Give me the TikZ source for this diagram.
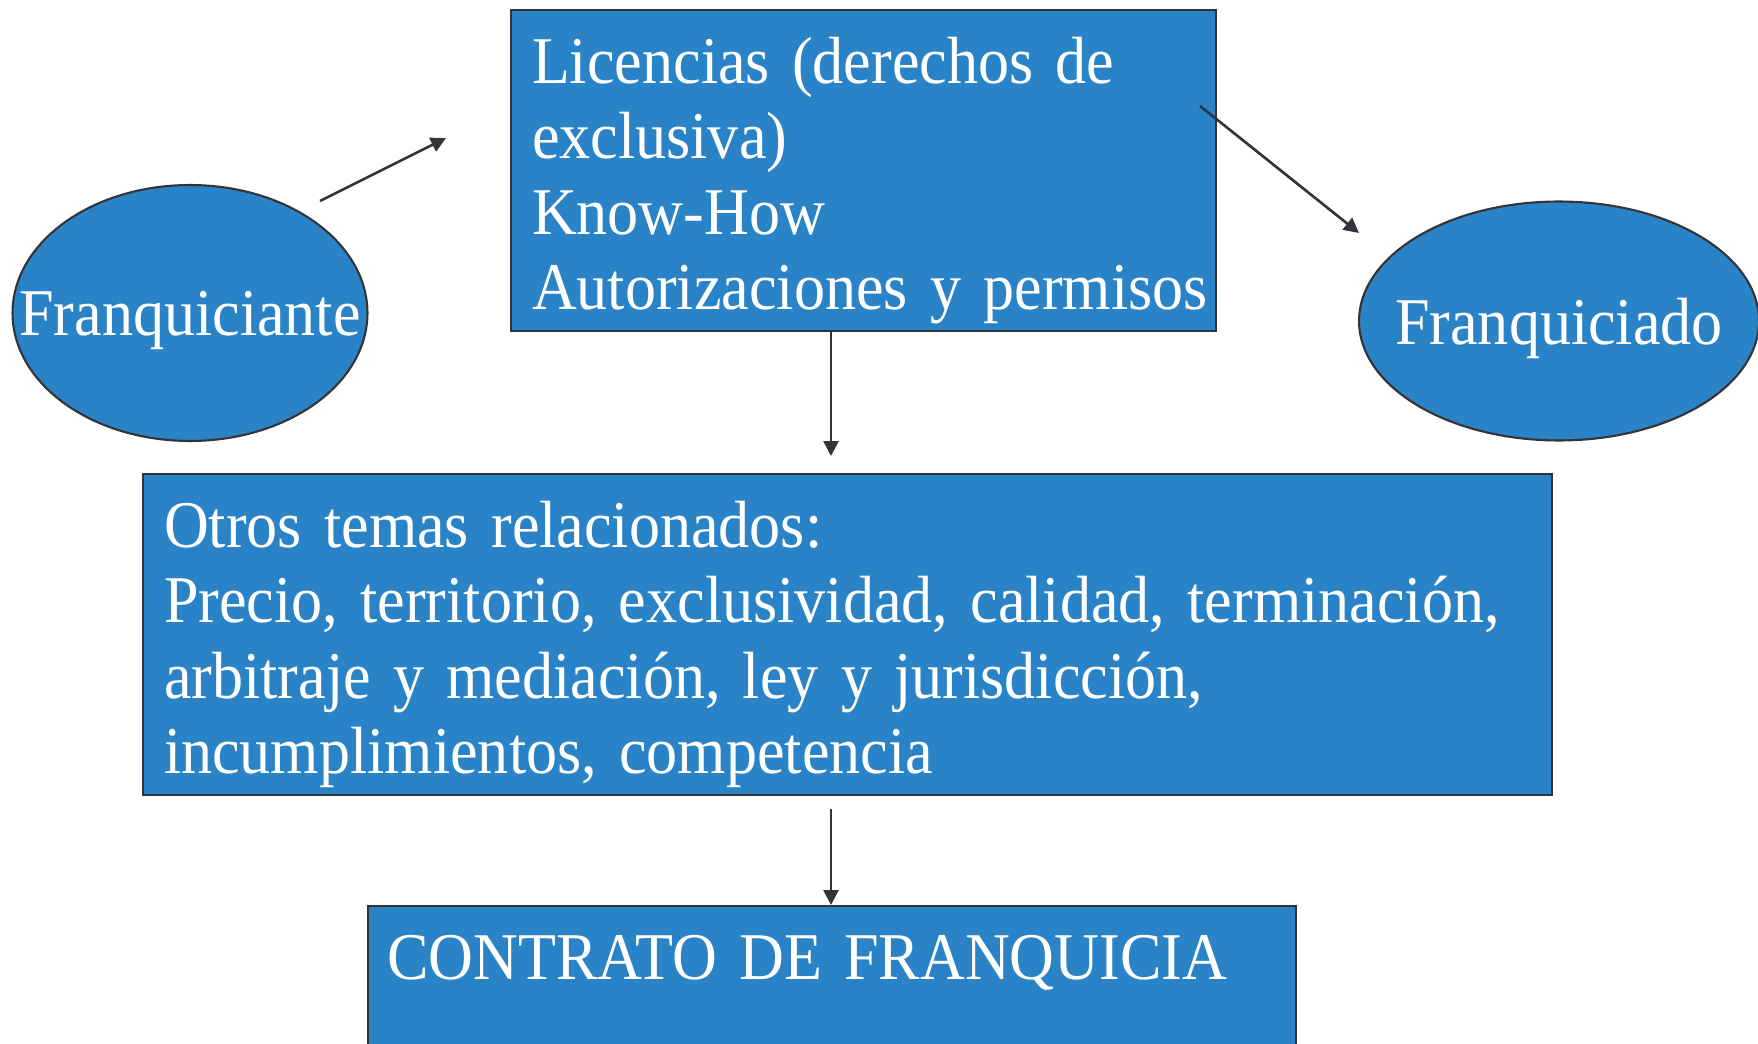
\documentclass[tikz,border=0pt]{standalone}
\usepackage{fontspec}
\setmainfont{Liberation Serif}[FakeStretch=0.93]
\usetikzlibrary{arrows.meta, shapes.geometric}
\definecolor{boxblue}{HTML}{2A83C6}
\definecolor{edgegray}{HTML}{333338}
\begin{document}
\begin{tikzpicture}[x=0.02cm,y=-0.02cm,>={Triangle[length=0.3cm,width=0.3cm]},
      every node/.style={font={\fontsize{38}{43}\selectfont\hyphenpenalty=10000\relax},text=white},
      boxnode/.style={draw=edgegray,line width=1.2pt,fill=boxblue,rectangle,anchor=north west,
        align=left,inner xsep=0.42cm,inner ysep=0pt,text height=1.46cm},
      party/.style={draw=edgegray,line width=1.2pt,fill=boxblue,ellipse,inner sep=0pt,text depth=0cm},
      link/.style={->,draw=edgegray,line width=1.5pt}]
      \useasboundingbox (0,0) rectangle (1758,1044);
      \node[party, minimum width=7.1cm, minimum height=5.12cm, text height=0.92cm] (fte) at (190,313) {\makebox[0pt]{Franquiciante}};
      \node[party, minimum width=8cm, minimum height=4.78cm, text height=0.96cm] (fdo) at (1559,321) {\makebox[0pt]{Franquiciado}};
      \node[boxnode, text width=13.26cm, text depth=4.96cm] (lic) at (510,9)
        {Licencias (derechos de\\exclusiva)\\Know-How\\\makebox[13.26cm][l]{Autorizaciones y permisos}};
      \node[boxnode, text width=27.34cm, text depth=4.96cm] (otros) at (142,473)
        {Otros temas relacionados:\\Precio, territorio, exclusividad, calidad, terminación,\\arbitraje y mediación, ley y jurisdicción,\\incumplimientos, competencia};
      \node[boxnode, text width=17.8cm, inner xsep=0.38cm, text depth=3cm] (contrato) at (367,905)
        {CONTRATO DE FRANQUICIA};
      \coordinate (a_0) at (320,201);
      \coordinate (a_1) at (446,138);
      \coordinate (b_0) at (1200,106);
      \coordinate (b_1) at (1359,233);
      \coordinate (c_1) at (831,456);
      \coordinate (d_0) at (831,809);
      \draw[link] (a_0) -- (a_1);
      \draw[link] (b_0) -- (b_1);
      \draw[link] (lic.south -| c_1) -- (c_1);
      \draw[link] (d_0) -- (d_0 |- contrato.north);
    \end{tikzpicture}
\end{document}
